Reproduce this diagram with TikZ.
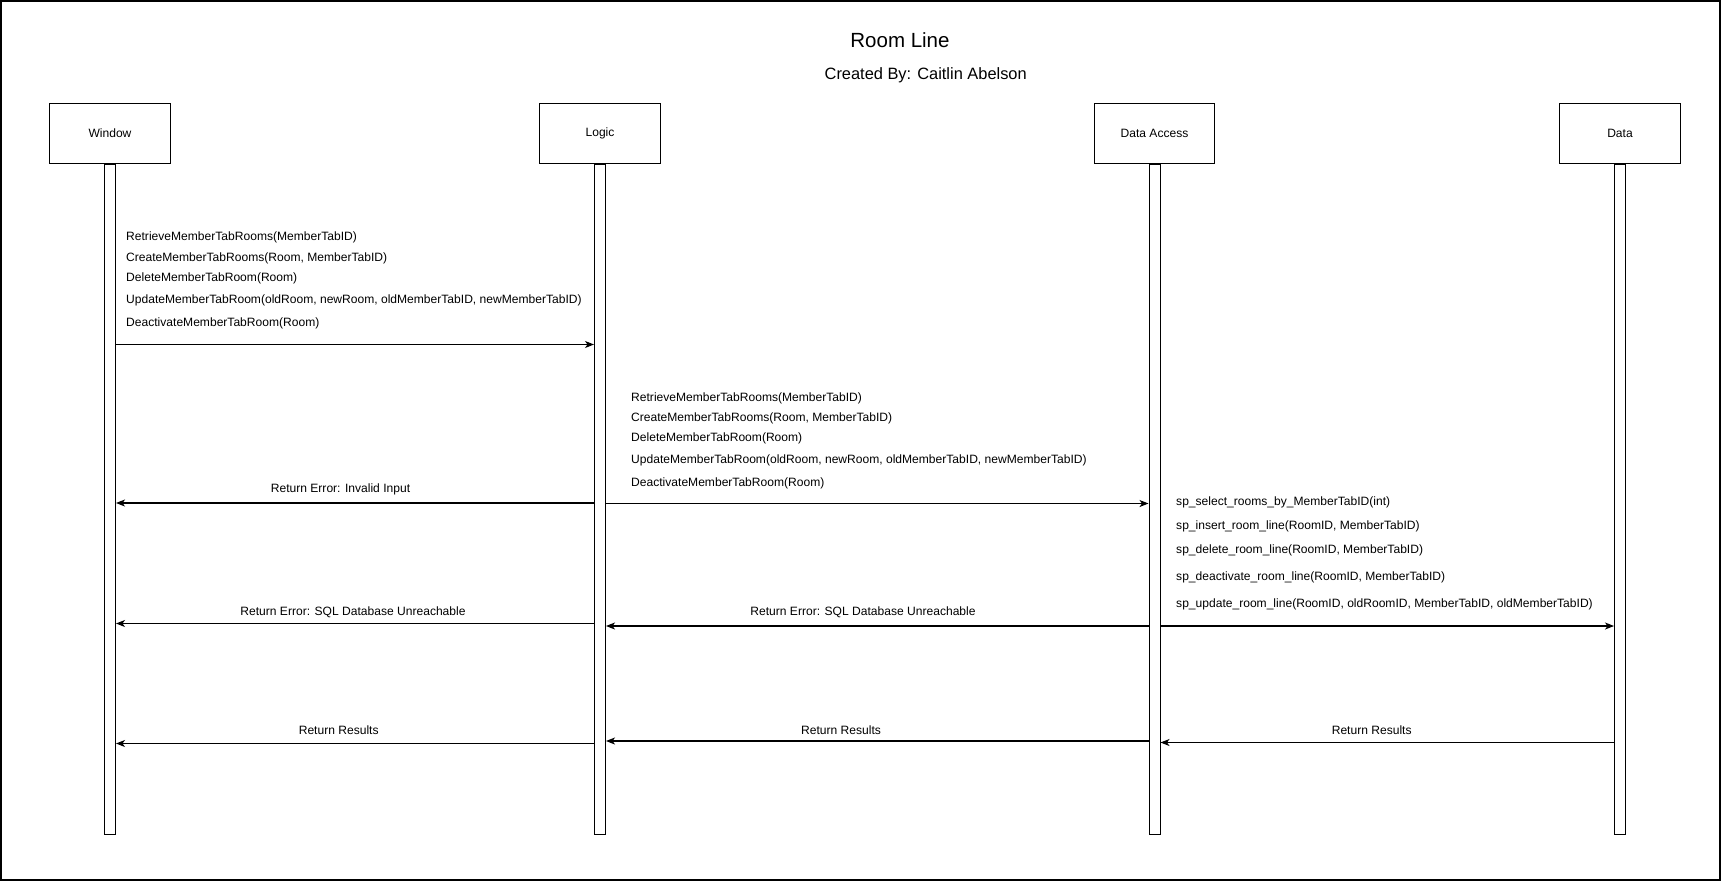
\documentclass[tikz,border=0pt]{standalone}
\usepackage{fontspec}
\setmainfont{Liberation Sans}
\usetikzlibrary{arrows.meta}
\begin{document}
\begin{tikzpicture}[x=1pt,y=-1pt,
  actor/.style={draw,line width=1pt,minimum width=120.5pt,minimum height=60.5pt,inner sep=0pt,font=\fontsize{12.07}{14}\selectfont},
  bar/.style={draw,line width=1pt,minimum width=11pt,minimum height=669.5pt,inner sep=0pt,anchor=north},
  msg/.style={line width=1.1pt,-{Stealth[length=9pt,width=7pt,inset=2.5pt]}},
  lbl/.style={inner sep=0pt,anchor=base west,font=\fontsize{12.07}{14}\selectfont},
  rlbl/.style={inner sep=0pt,anchor=base,font=\fontsize{12.07}{14}\selectfont}]
\useasboundingbox (0,0) rectangle (1721,881);
\draw[line width=1.5pt] (1,1) rectangle (1720,880);

\node[inner sep=0pt,anchor=base,font=\fontsize{20.5}{24}\selectfont] (title) at (900,47.3) {Room Line};
\node[inner sep=0pt,anchor=base,font=\fontsize{16.4}{20}\selectfont] (author) at (925.7,79.3) {Created By: Caitlin Abelson};

\node[actor] (wbox) at (110,133.25) {Window};
\node[actor] (lbox) at (600,133.25) {Logic};
\node[actor] (dabox) at (1154.5,133.25) {Data Access};
\node[actor] (dbox) at (1620,133.25) {Data};

\node[bar] (wl) at (wbox.south) {};
\node[bar] (ll) at (lbox.south) {};
\node[bar] (dal) at (dabox.south) {};
\node[bar] (dl) at (dbox.south) {};

\coordinate (y1) at (0,344.5);
\coordinate (y2) at (0,503.5);
\coordinate (y3) at (0,503);
\coordinate (y4) at (0,626);
\coordinate (y5) at (0,626);
\coordinate (y6) at (0,623.5);
\coordinate (y7) at (0,742.5);
\coordinate (y8) at (0,741);
\coordinate (y9) at (0,743.5);

\draw[msg] (wl.east |- y1) -- (ll.west |- y1);
\draw[msg] (ll.east |- y2) -- (dal.west |- y2);
\draw[msg] (ll.west |- y3) -- (wl.east |- y3);
\draw[msg] (dal.east |- y4) -- (dl.west |- y4);
\draw[msg] (dal.west |- y5) -- (ll.east |- y5);
\draw[msg] (ll.west |- y6) -- (wl.east |- y6);
\draw[msg] (dl.west |- y7) -- (dal.east |- y7);
\draw[msg] (dal.west |- y8) -- (ll.east |- y8);
\draw[msg] (ll.west |- y9) -- (wl.east |- y9);

\node[lbl] (a1) at (126,240.8) {RetrieveMemberTabRooms(MemberTabID)};
\node[lbl] (a2) at (126,261.0) {CreateMemberTabRooms(Room, MemberTabID)};
\node[lbl] (a3) at (126,281.0) {DeleteMemberTabRoom(Room)};
\node[lbl] (a4) at (126,303.6) {UpdateMemberTabRoom(oldRoom, newRoom, oldMemberTabID, newMemberTabID)};
\node[lbl] (a5) at (126,326.0) {DeactivateMemberTabRoom(Room)};

\node[lbl] (b1) at (631,401.0) {RetrieveMemberTabRooms(MemberTabID)};
\node[lbl] (b2) at (631,421.0) {CreateMemberTabRooms(Room, MemberTabID)};
\node[lbl] (b3) at (631,441.0) {DeleteMemberTabRoom(Room)};
\node[lbl] (b4) at (631,463.8) {UpdateMemberTabRoom(oldRoom, newRoom, oldMemberTabID, newMemberTabID)};
\node[lbl] (b5) at (631,486.0) {DeactivateMemberTabRoom(Room)};

\node[lbl] (c1) at (1176,505.8) {sp\_select\_rooms\_by\_MemberTabID(int)};
\node[lbl] (c2) at (1176,529.3) {sp\_insert\_room\_line(RoomID, MemberTabID)};
\node[lbl] (c3) at (1176,553.8) {sp\_delete\_room\_line(RoomID, MemberTabID)};
\node[lbl] (c4) at (1176,580.8) {sp\_deactivate\_room\_line(RoomID, MemberTabID)};
\node[lbl] (c5) at (1176,607.0) {sp\_update\_room\_line(RoomID, oldRoomID, MemberTabID, oldMemberTabID)};

\node[rlbl] (r1) at (340.5,492.0) {Return Error: Invalid Input};
\node[rlbl] (r2) at (353,615.8) {Return Error: SQL Database Unreachable};
\node[rlbl] (r3) at (863,615.6) {Return Error: SQL Database Unreachable};
\node[rlbl] (r4) at (338.7,734.0) {Return Results};
\node[rlbl] (r5) at (841,734.3) {Return Results};
\node[rlbl] (r6) at (1371.7,734.0) {Return Results};
\end{tikzpicture}
\end{document}
